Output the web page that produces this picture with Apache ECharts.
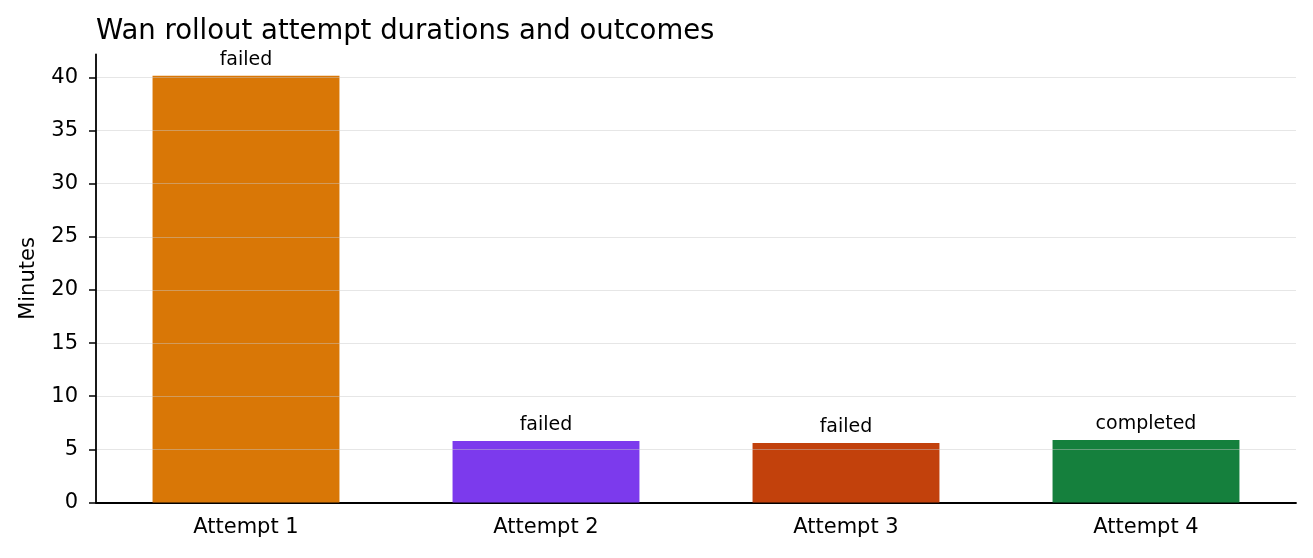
<!DOCTYPE html>
<html>
<head>
<meta charset="utf-8">
<script src="https://cdn.jsdelivr.net/npm/echarts@6/dist/echarts.min.js"></script>
<style>
html,body{margin:0;padding:0;background:#fff;}
#c{width:1313px;height:558px;}
</style>
</head>
<body>
<div id="c"></div>
<script>
const categories = ["Attempt 1", "Attempt 2", "Attempt 3", "Attempt 4"];
const minutes = [40.15, 5.79, 5.6, 5.88];
const outcomes = ["failed", "failed", "failed", "completed"];
const barColors = ["#d97706", "#7c3aed", "#c2410c", "#15803d"];
const yTicks = [0, 5, 10, 15, 20, 25, 30, 35, 40];

const FONT = "DejaVu Sans";
const chart = echarts.init(document.getElementById('c'), null, {renderer: 'canvas'});
chart.setOption({
  animation: false,
  backgroundColor: '#ffffff',
  title: {
    text: 'Wan rollout attempt durations and outcomes',
    left: 91, top: 13,
    textStyle: {fontFamily: FONT, fontSize: 27.5, fontWeight: 'normal', color: '#000'}
  },
  grid: {left: 96, right: 17, top: 54.5, bottom: 55.5},
  xAxis: {
    type: 'category',
    data: categories,
    boundaryGap: true,
    axisLine: {lineStyle: {color: '#000', width: 1.8}},
    axisTick: {alignWithLabel: true, length: 7, lineStyle: {color: '#000', width: 1.5}},
    axisLabel: {fontFamily: FONT, fontSize: 21, color: '#000', margin: 15},
    splitLine: {show: false}
  },
  yAxis: {
    type: 'value',
    min: 0, max: 42.15, interval: 5,
    z: 5,
    name: 'Minutes',
    nameLocation: 'middle',
    nameGap: 57,
    nameTextStyle: {fontFamily: FONT, fontSize: 21, color: '#000'},
    axisLine: {show: true, lineStyle: {color: '#000', width: 1.8}},
    axisTick: {show: true, length: 7, lineStyle: {color: '#000', width: 1.5}},
    axisLabel: {
      fontFamily: FONT, fontSize: 21, color: '#000', margin: 18,
      showMaxLabel: false,
      formatter: function (v) { return yTicks.indexOf(v) >= 0 ? String(v) : ''; }
    },
    splitLine: {show: true, showMaxLine: false, showMinLine: false, lineStyle: {color: 'rgba(200,200,200,0.45)', width: 1}}
  },
  series: [{
    type: 'bar',
    barWidth: '62.3%',
    data: minutes.map((v, i) => ({value: v, itemStyle: {color: barColors[i]}})),
    label: {
      show: true,
      position: 'top',
      distance: 6,
      fontFamily: FONT, fontSize: 19, color: '#000',
      formatter: function (p) { return outcomes[p.dataIndex]; }
    }
  }]
});
</script>
</body>
</html>
